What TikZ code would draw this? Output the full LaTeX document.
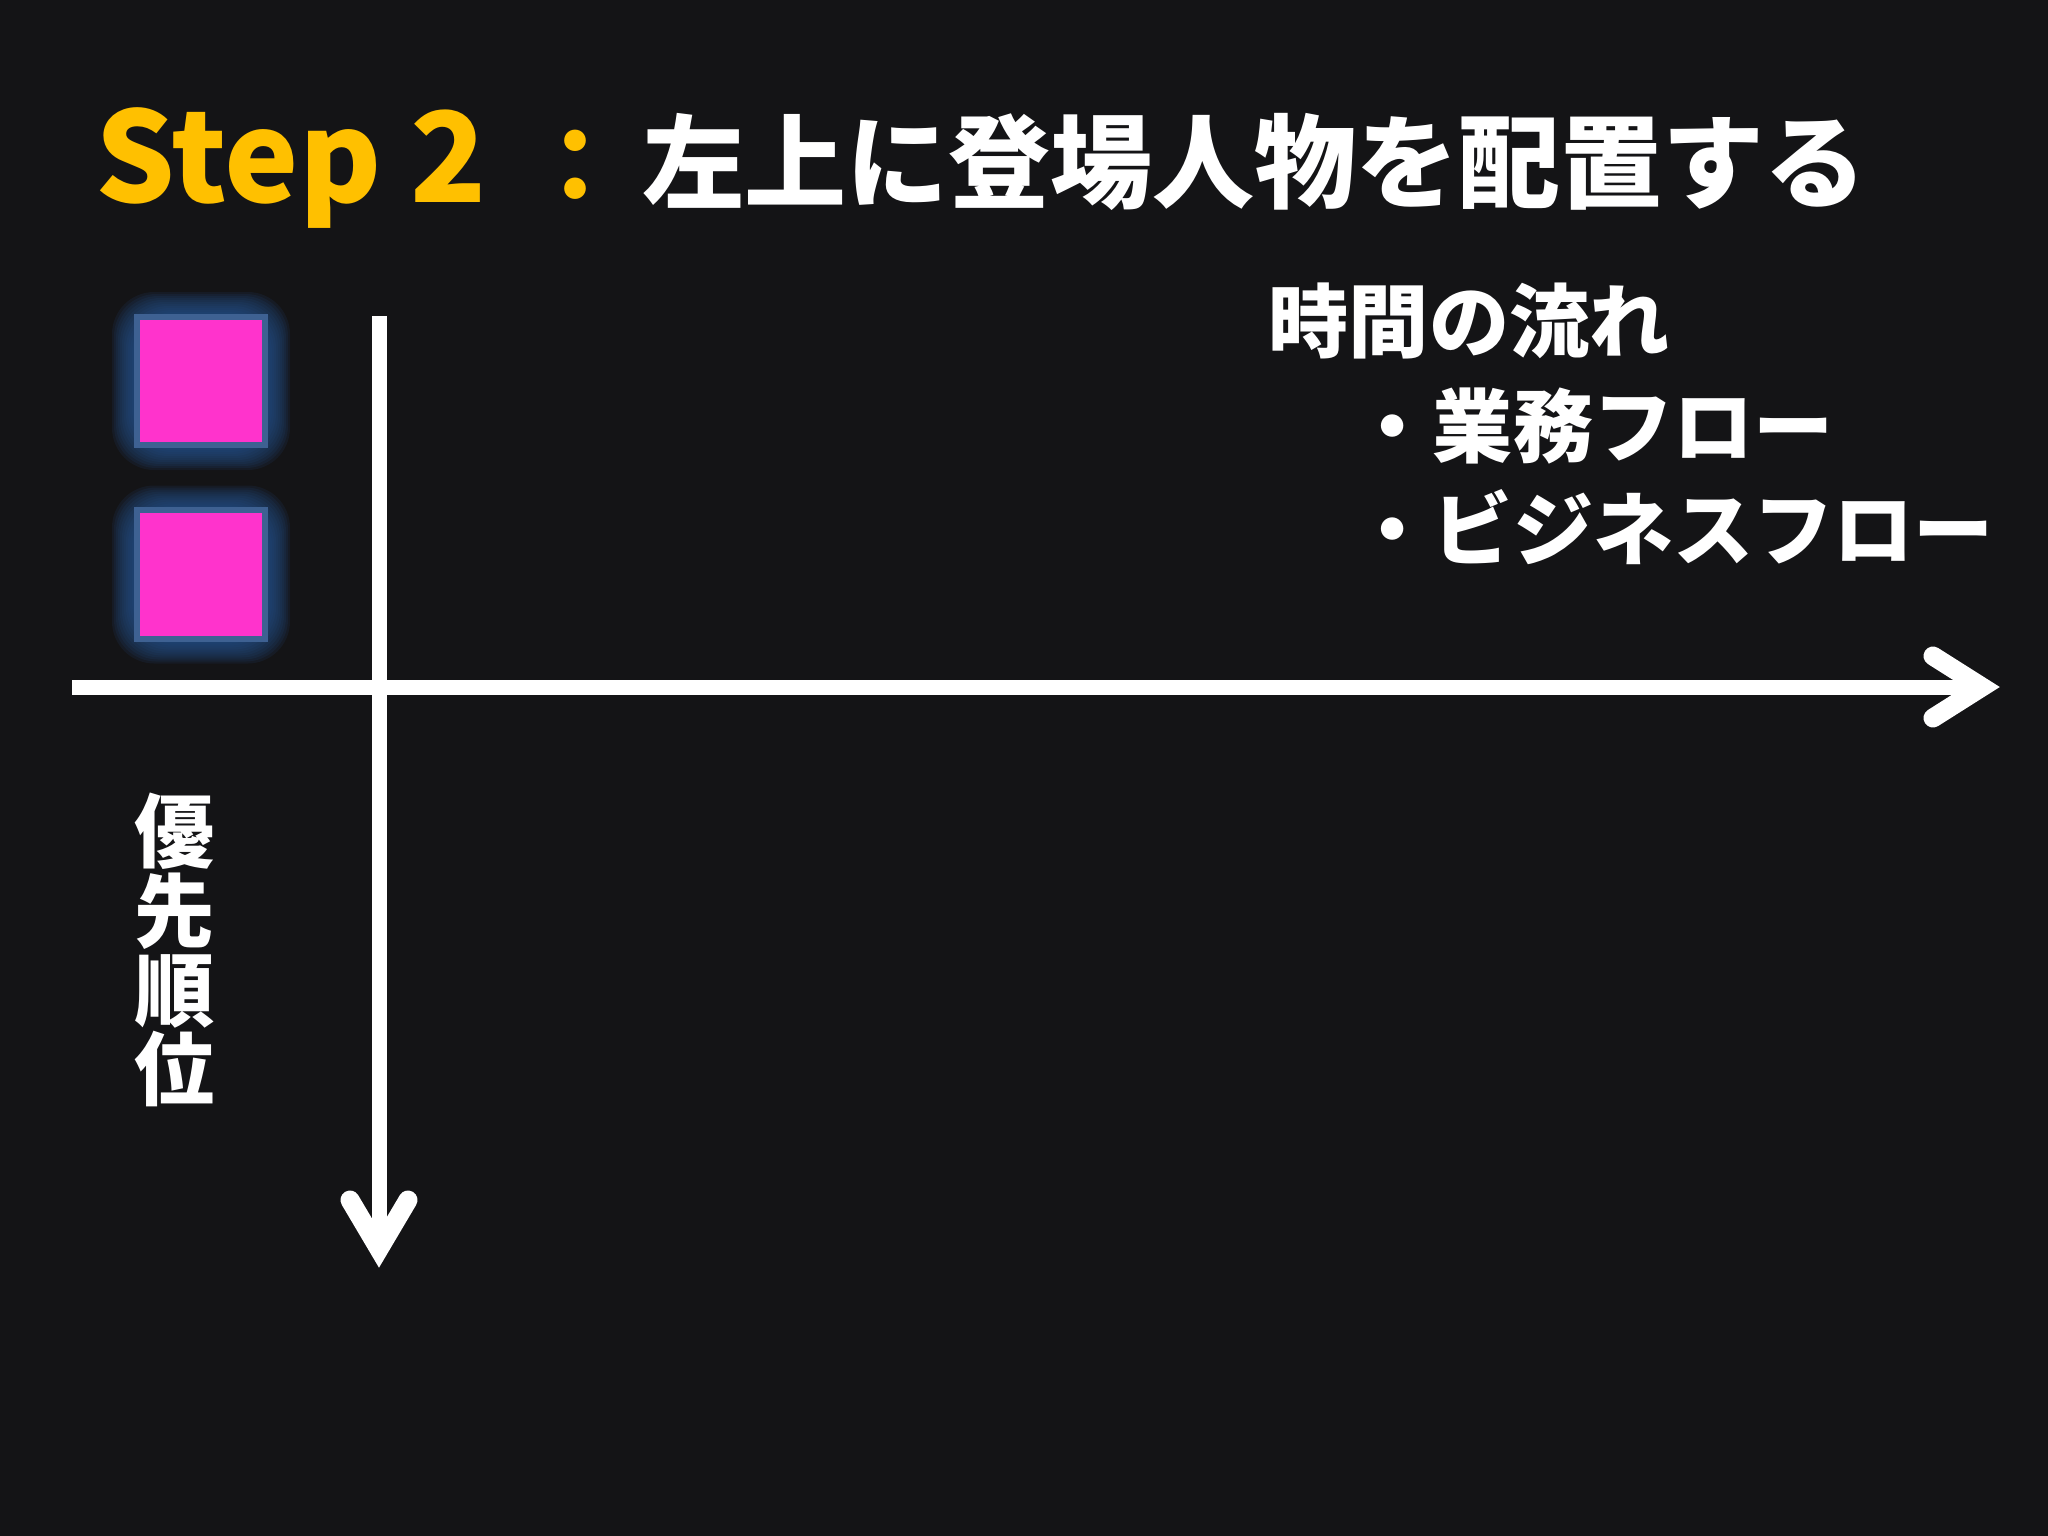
\documentclass[tikz,border=0pt]{standalone}
\usepackage{fontspec}
\newfontfamily\jp{Noto Sans CJK JP}
\usetikzlibrary{calc}
\definecolor{bg}{HTML}{141416}
\definecolor{gold}{HTML}{FFC000}
\definecolor{pinkfill}{HTML}{FF33CC}
\definecolor{sqborder}{HTML}{3E6192}
\definecolor{glowc}{HTML}{24508A}
\tikzset{
  jptext/.style={font=\jp\bfseries\fontsize{22.8pt}{22.5pt}\selectfont, text=white, inner sep=0pt},
  titletext/.style={font=\jp\bfseries\fontsize{29pt}{34pt}\selectfont, inner sep=0pt},
  steptext/.style={font=\jp\bfseries\fontsize{35.6pt}{40pt}\selectfont, text=gold, inner sep=0pt},
  shaft/.style={draw=white, line width=0.15cm, line cap=butt},
  headv/.style={draw=white, line width=0.19cm, line cap=round, line join=miter},
  sqbox/.style={draw=sqborder, line width=0.06cm, fill=pinkfill, minimum size=1.28cm, inner sep=0pt},
}
\begin{document}
\begin{tikzpicture}[x=0.01cm, y=-0.01cm]
\fill[bg] (0,0) rectangle (2048,1536);
\useasboundingbox (0,0) rectangle (2048,1536);

% title
\node[steptext, anchor=west] (step) at (95,168) {Step 2};
\node[titletext, text=gold, anchor=center] (colon) at (575,166) {：};
\node[titletext, text=white, anchor=west] (title) at (642,162) {左上に登場人物を配置する};

% squares with glow
\coordinate (c1) at (201,381);
\coordinate (c2) at (201,574.5);
\foreach \p in {c1,c2}{
  \foreach \r in {2,4,...,22}{
    \fill[glowc, opacity=0.13, rounded corners=12pt] ($(\p)+(-67-\r,-67-\r)$) rectangle ($(\p)+(67+\r,67+\r)$);
  }
}
\node[sqbox] (sq1) at (c1) {};
\node[sqbox] (sq2) at (c2) {};

% axes
\coordinate (vtop) at (379,316);
\coordinate (vtip) at (379,1249);
\coordinate (vl) at (350,1200);
\coordinate (vr) at (408,1200);
\coordinate (hstart) at (72,687);
\coordinate (htip) at (1982,687);
\coordinate (hu) at (1933,656);
\coordinate (hd) at (1933,718);
\draw[shaft] (vtop) -- (vtip);
\draw[headv] (vl) -- (vtip) -- (vr);
\draw[shaft] (hstart) -- (htip);
\draw[headv] (hu) -- (htip) -- (hd);

% labels
\node[jptext, anchor=west] (flow) at (1268,321) {時間の流れ};
\node[jptext, anchor=west] (gyomu) at (1352,426) {・業務フロー};
\node[jptext, anchor=west] (biz) at (1352,527) {・ビジネスフロー};
\node[jptext, align=center, anchor=center] (prio) at (175,950) {優\\先\\順\\位};
\end{tikzpicture}
\end{document}
